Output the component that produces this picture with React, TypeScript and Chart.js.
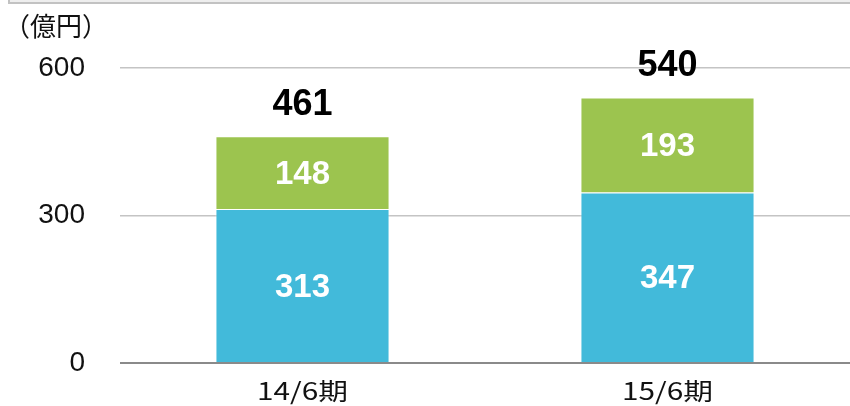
import React, { useEffect, useRef } from "react";
import { Chart, registerables } from "chart.js";

Chart.register(...registerables);

const categories = ["14/6期", "15/6期"];
const seriesBottom = [313, 347];
const seriesTop = [148, 193];
const totals = [461, 540];
const yTicks = [0, 300, 600];
const unitLabel = "（億円）";

const BLUE = "#42BADA";
const GREEN = "#9CC44F";

const labelPlugin = {
  id: "barLabels",
  afterDatasetsDraw(chart: any) {
    const ctx = chart.ctx;
    ctx.save();
    ctx.textAlign = "center";
    ctx.textBaseline = "middle";
    chart.data.datasets.forEach((ds: any, di: number) => {
      const meta = chart.getDatasetMeta(di);
      meta.data.forEach((bar: any, i: number) => {
        const y = (bar.y + bar.base) / 2;
        ctx.fillStyle = "#ffffff";
        ctx.font = "bold 33px 'Liberation Sans', Arial, sans-serif";
        ctx.fillText(String(ds.data[i]), bar.x, y + 2);
      });
    });
    const topMeta = chart.getDatasetMeta(chart.data.datasets.length - 1);
    topMeta.data.forEach((bar: any, i: number) => {
      ctx.fillStyle = "#000000";
      ctx.font = "bold 36px 'Liberation Sans', Arial, sans-serif";
      ctx.fillText(String(totals[i]), bar.x, bar.y - 31);
    });
    // category labels, slightly widened like the reference font
    const xScale = chart.scales.x;
    ctx.fillStyle = "#111111";
    ctx.font = "24px 'Noto Sans CJK JP', sans-serif";
    chart.data.labels.forEach((lab: string, i: number) => {
      const cx = xScale.getPixelForTick(i);
      ctx.save();
      ctx.translate(cx, chart.chartArea.bottom + 28);
      ctx.scale(1.24, 1);
      ctx.fillText(lab, 0, 0);
      ctx.restore();
    });
    ctx.restore();
  },
};

export default function App() {
  const ref = useRef<HTMLCanvasElement | null>(null);

  useEffect(() => {
    document.body.style.margin = "0";
    if (!ref.current) return;
    const chart = new Chart(ref.current, {
      type: "bar",
      data: {
        labels: categories,
        datasets: [
          {
            data: seriesBottom,
            backgroundColor: BLUE,
            borderColor: "rgba(255,255,255,0.5)",
            borderWidth: 1,
            barPercentage: 0.477,
            categoryPercentage: 1,
          },
          {
            data: seriesTop,
            backgroundColor: GREEN,
            borderColor: "rgba(255,255,255,0.5)",
            borderWidth: 1,
            barPercentage: 0.477,
            categoryPercentage: 1,
          },
        ],
      },
      options: {
        animation: false,
        responsive: false,
        maintainAspectRatio: false,
        layout: { padding: { top: 68, left: 0, right: 0, bottom: 0 } },
        plugins: {
          legend: { display: false },
          tooltip: { enabled: false },
          title: { display: false },
        },
        scales: {
          x: {
            stacked: true,
            grid: { display: false },
            border: { display: false },
            ticks: { display: false },
            afterFit(axis: any) {
              axis.height = 43;
              axis.paddingLeft = 0;
              axis.paddingRight = 0;
            },
          },
          y: {
            stacked: true,
            min: 0,
            max: 600,
            afterBuildTicks(axis: any) {
              axis.ticks = yTicks.map((v) => ({ value: v }));
            },
            afterFit(axis: any) {
              axis.width = 120;
              axis.paddingTop = 0;
              axis.paddingBottom = 0;
            },
            border: { display: false },
            grid: {
              drawTicks: false,
              color: (c: any) => (c.tick && c.tick.value === 0 ? "#8a8a8a" : "#c4c4c4"),
              lineWidth: (c: any) => (c.tick && c.tick.value === 0 ? 2 : 1.5),
            },
            ticks: {
              color: "#111111",
              padding: 35,
              font: { family: "'Liberation Sans', Arial, sans-serif", size: 28 },
            },
          },
        },
      },
      plugins: [labelPlugin],
    });
    return () => chart.destroy();
  }, []);

  return (
    <div style={{ position: "relative", width: 850, height: 406, overflow: "hidden", background: "#fff" }}>
      <div
        style={{
          position: "absolute",
          left: 8,
          top: -10,
          width: 860,
          height: 14,
          border: "2px solid #c2c2c2",
          background: "#eeeeee",
          boxSizing: "border-box",
        }}
      />
      <div
        style={{
          position: "absolute",
          left: 4,
          top: 8,
          fontFamily: "'Noto Sans CJK JP', sans-serif",
          fontSize: 26,
          lineHeight: "34px",
          color: "#111",
          whiteSpace: "nowrap",
        }}
      >
        {unitLabel}
      </div>
      <canvas ref={ref} width={850} height={406} style={{ display: "block" }} />
    </div>
  );
}
